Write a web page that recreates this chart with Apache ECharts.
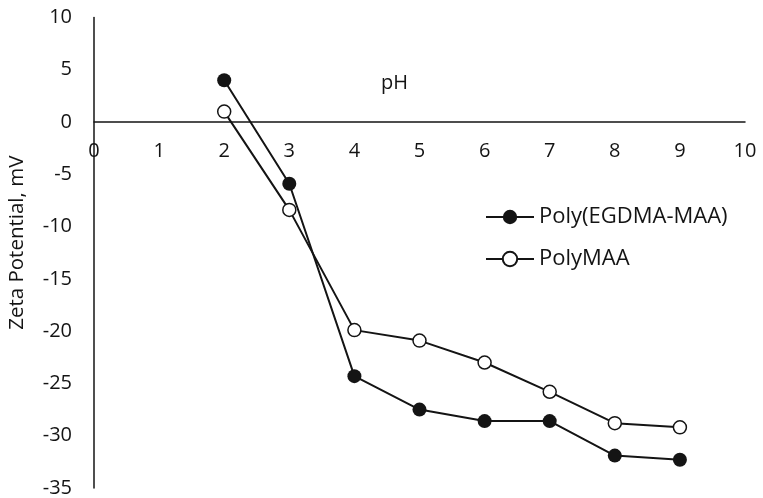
<!DOCTYPE html>
<html>
<head>
<meta charset="utf-8">
<script src="https://cdn.jsdelivr.net/npm/echarts@6/dist/echarts.min.js"></script>
<style>
  html, body { margin: 0; padding: 0; background: #fff; }
  #chart { width: 763px; height: 498px; }
</style>
</head>
<body>
<div id="chart"></div>
<script>
// pH values
const phValues = [2, 3, 4, 5, 6, 7, 8, 9]
// zeta potential, mV
const polyEgdmaMaa = [4.0, -5.9, -24.3, -27.5, -28.6, -28.6, -31.9, -32.3]
const polyMaa = [1.0, -8.4, -19.9, -20.9, -23.0, -25.8, -28.8, -29.2]
const seriesNames = ['Poly(EGDMA-MAA)', 'PolyMAA']
const yMin = -35
const yMax = 10

const font = 'Open Sans'
const ink = '#141414'

const gridTop = 17.5
const gridBottom = 10
const plotHeight = 498 - gridTop - gridBottom
// x axis sits on y = 0, labels just under it
const zeroOffset = -plotHeight * (0 - yMin) / (yMax - yMin)

const toPairs = (vals) => vals.map((v, i) => [phValues[i], v])

const chart = echarts.init(document.getElementById('chart'))
chart.setOption({
  animation: false,
  grid: { left: 94, right: 18, top: gridTop, bottom: gridBottom, outerBoundsMode: 'none' },
  legend: {
    orient: 'vertical',
    left: 485,
    top: 206,
    padding: 0,
    itemWidth: 48,
    itemHeight: 18,
    itemGap: 20,
    data: seriesNames,
    textStyle: { fontFamily: font, fontSize: 22, color: ink }
  },
  xAxis: {
    type: 'value',
    min: 0,
    max: 10,
    interval: 1,
    offset: zeroOffset,
    name: 'pH',
    nameLocation: 'middle',
    nameGap: -49,
    nameMoveOverlap: false,
    nameTextStyle: { fontFamily: font, fontSize: 20, color: ink, padding: [0, 50, 0, 0] },
    axisLine: { onZero: false, lineStyle: { color: ink, width: 1.5 } },
    axisTick: { show: false },
    splitLine: { show: false },
    axisLabel: { margin: 19, fontFamily: font, fontSize: 20, color: ink }
  },
  yAxis: {
    type: 'value',
    min: yMin,
    max: yMax,
    interval: 5,
    name: 'Zeta Potential, mV',
    nameLocation: 'middle',
    nameGap: 66,
    nameMoveOverlap: false,
    nameTextStyle: { fontFamily: font, fontSize: 20.5, color: ink, padding: [0, 0, 0, 20] },
    axisLine: { show: true, onZero: false, lineStyle: { color: ink, width: 1.5 } },
    axisTick: { show: false },
    splitLine: { show: false },
    axisLabel: { margin: 22, fontFamily: font, fontSize: 20, color: ink }
  },
  series: [
    {
      name: seriesNames[0],
      type: 'line',
      data: toPairs(polyEgdmaMaa),
      symbol: 'circle',
      symbolSize: 14,
      lineStyle: { color: ink, width: 2 },
      itemStyle: { color: ink, borderColor: ink, borderWidth: 0 }
    },
    {
      name: seriesNames[1],
      type: 'line',
      data: toPairs(polyMaa),
      symbol: 'circle',
      symbolSize: 13,
      lineStyle: { color: ink, width: 2 },
      itemStyle: { color: '#fff', borderColor: ink, borderWidth: 1.5 }
    }
  ]
})
</script>
</body>
</html>
